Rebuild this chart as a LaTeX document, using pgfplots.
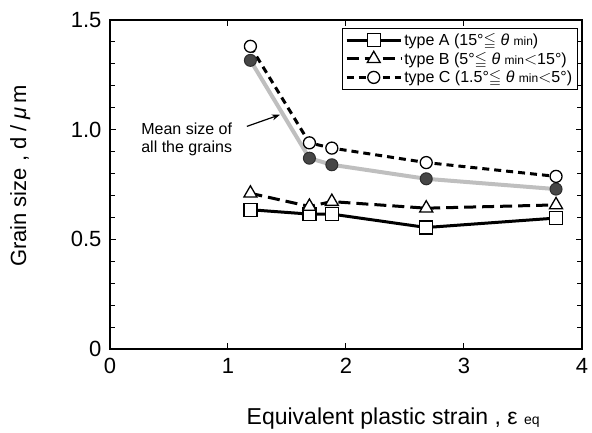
\documentclass[border=0pt]{standalone}
\usepackage{fontspec}
\setmainfont{Liberation Sans}
\usepackage{amssymb}
\usepackage{pgfplots}
\pgfplotsset{compat=1.18}
\usetikzlibrary{arrows.meta}
\newcommand{\sm}[1]{{\fontsize{12}{12}\selectfont #1}}
\begin{document}
\begin{tikzpicture}
\begin{axis}[
  scale only axis, width=472pt, height=329pt,
  xmin=0, xmax=4, ymin=0, ymax=1.5,
  xtick={0,1,2,3,4}, ytick={0,0.5,1.0,1.5},
  yticklabels={0,0.5,1.0,1.5},
  minor y tick num=4,
  tick align=inside, major tick length=6pt, minor tick length=5pt,
  axis line style={line width=1.6pt},
  every tick/.style={line width=1pt, black},
  tick label style={font=\fontsize{22}{22}\selectfont},
  /pgf/number format/assume math mode=true,
  yticklabel style={xshift=-5pt},
  xticklabel style={yshift=-6pt},
  xlabel={Equivalent plastic strain , ε {\fontsize{14}{14}\selectfont eq}},
  ylabel={Grain size , d / \textit{μ}\,m},
  label style={font=\fontsize{22}{22}\selectfont},
  xlabel style={at={(axis description cs:0.6,-0.212)}, anchor=center, font=\fontsize{23}{23}\selectfont},
  ylabel style={at={(axis description cs:-0.19,0.526)}, anchor=center},
  legend style={at={(rel axis cs:0.99,0.975)}, anchor=north east,
    font=\fontsize{16}{16}\selectfont, draw=black,
    row sep=1pt, inner sep=3pt},
  legend cell align=left,
  legend image code/.code={\draw[line width=3pt, mark repeat=2,mark phase=2] plot coordinates {(0cm,0cm)(0.95cm,0cm)(1.9cm,0cm)};},
]
\coordinate (sw) at (rel axis cs:0,0);
\coordinate (ne) at (rel axis cs:1,1);

% Mean size of all the grains
\addplot[forget plot, color=gray!50, line width=4pt, mark=*, mark size=6pt,
  mark options={solid, fill=gray!55!black, draw=gray!35!black, line width=1pt}]
  coordinates {(1.19,1.316) (1.69,0.87) (1.88,0.84) (2.68,0.776) (3.78,0.729)};

% type A
\addplot[black, line width=3pt, mark=square*, mark size=6.5pt,
  mark options={solid, fill=white, line width=1.3pt}]
  coordinates {(1.19,0.635) (1.69,0.615) (1.88,0.615) (2.68,0.554) (3.78,0.597)};
\addlegendentry{type A (15°$\leqq$ \textit{θ} \sm{min})}

% type B
\addplot[black, line width=3pt, dash pattern=on 12pt off 6pt, mark=triangle*, mark size=7.5pt,
  mark options={solid, fill=white, line width=1.3pt}]
  coordinates {(1.19,0.71) (1.69,0.65) (1.88,0.672) (2.68,0.642) (3.78,0.657)};
\addlegendentry{type B (5°$\leqq$ \textit{θ} \sm{min}$<$15°)}

% type C
\addplot[black, line width=3pt, dash pattern=on 7pt off 5pt, mark=*, mark size=6pt,
  mark options={solid, fill=white, line width=1.3pt}]
  coordinates {(1.19,1.38) (1.69,0.94) (1.88,0.916) (2.68,0.85) (3.78,0.787)};
\addlegendentry{type C (1.5°$\leqq$ \textit{θ} \sm{min}$<$5°)}

\node[font=\fontsize{16}{18}\selectfont, align=center] at (axis cs:0.65,0.955) {Mean size of\\all the grains};
\draw[-{Stealth[length=8pt]}, line width=1.2pt] (axis cs:1.16,1.015) -- (axis cs:1.44,1.068);
\end{axis}
\pgfresetboundingbox
\path ([shift={(-110pt,-83pt)}]sw) rectangle ([shift={(10pt,20pt)}]ne);
\end{tikzpicture}
\end{document}
